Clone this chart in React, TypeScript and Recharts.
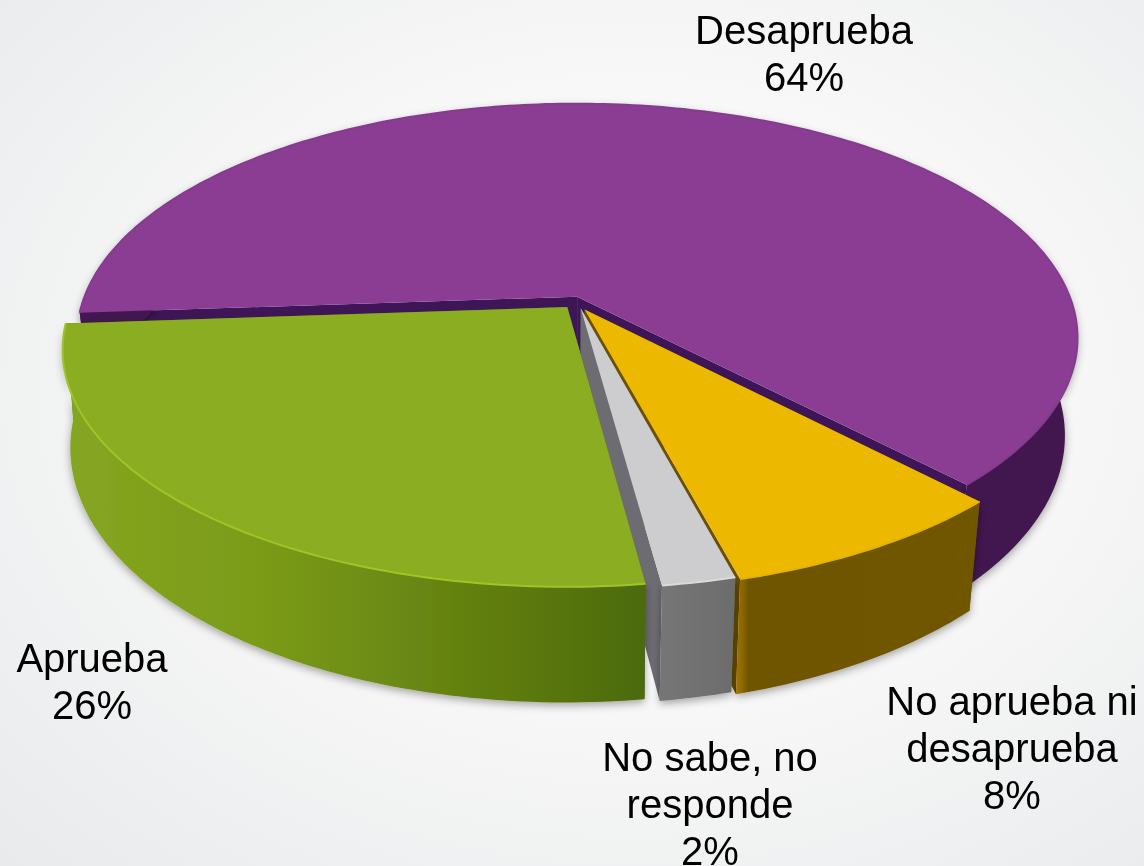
import React from 'react';
import { PieChart, Pie } from 'recharts';

const CATEGORIES = ['Desaprueba', 'No aprueba ni desaprueba', 'No sabe, no responde', 'Aprueba'];
const VALUES = [64, 8, 2, 26];
const LABEL_LINES = [['Desaprueba'], ['No aprueba ni', 'desaprueba'], ['No sabe, no', 'responde'], ['Aprueba']];

const TOP_COLORS = ['#8A3D93', '#EDB900', '#CDCDCF', '#8AAD22'];
const RIM_COLORS = ['#853B8E', '#E6B300', '#DADADA', '#A0C428'];
const WALL_FILLS = ['url(#wallPurple)', 'url(#wallYellow)', 'url(#wallGray)', 'url(#wallGreen)'];
const CUT_COLORS = ['#3E1657', '#6A5000', '#6C6C72', '#4C6A0A'];
// ajustes de cada fatia (unidade = raio)
const SLICE_NUDGE_U = [0, 0.012, 0.011, 0.003];
const SLICE_NUDGE_V = [0.006, -0.008, 0, 0];
const BOTTOM_SCALE = [0.975, 0.975, 0.975, 0.985];

// centro de cada rótulo e linha de base da primeira linha
const LABEL_POS = [
  { x: 804, y: 44 },
  { x: 1012, y: 715 },
  { x: 710, y: 771 },
  { x: 92, y: 672 },
];
const LINE_HEIGHT = 47;

const CX = 573;
const CY = 303;
const RADIUS = 495;
const TILT = 0.4626; // achatamento vertical do disco
const PERSP = 0.1756; // perspectiva frente/fundo
const EXPLODE = 0.023;
const DEPTH = 95;

const rad = (a: number) => (a * Math.PI) / 180;

// projeta um ponto do disco (unidade = raio) para a tela
const project = (u: number, v: number, scale: number, cx: number, cy: number, r: number) => {
  const w = 1 + PERSP * v;
  const x = cx + (r * u) / w;
  const y = cy - (r * TILT * v) / w;
  if (scale === 1) return [x, y];
  return [cx + (x - cx) * scale, y + DEPTH / w];
};

const toPath = (pts: number[][]) =>
  pts.map((p, i) => `${i === 0 ? 'M' : 'L'}${p[0].toFixed(1)} ${p[1].toFixed(1)}`).join(' ') + ' Z';

const PieSlice3D = (props: any) => {
  const { cx, cy, outerRadius, startAngle, endAngle, index } = props;
  const mid = rad((startAngle + endAngle) / 2);
  const ou = EXPLODE * Math.cos(mid) + SLICE_NUDGE_U[index];
  const ov = EXPLODE * Math.sin(mid) + SLICE_NUDGE_V[index];

  const steps = Math.max(4, Math.ceil(Math.abs(startAngle - endAngle)));
  const arc: number[][] = [];
  for (let i = 0; i <= steps; i++) {
    const a = rad(startAngle + ((endAngle - startAngle) * i) / steps);
    arc.push([ou + Math.cos(a), ov + Math.sin(a)]);
  }
  const top = (p: number[]) => project(p[0], p[1], 1, cx, cy, outerRadius);
  const low = (p: number[]) => project(p[0], p[1], BOTTOM_SCALE[index], cx, cy, outerRadius);

  const apex = [ou, ov];
  const first = arc[0];
  const last = arc[arc.length - 1];
  const topArc = arc.map(top);
  const lowArc = arc.map(low);

  const rimPath = topArc.map((p, i) => `${i === 0 ? 'M' : 'L'}${p[0].toFixed(1)} ${p[1].toFixed(1)}`).join(' ');

  return (
    <g>
      <path d={toPath([top(apex), top(first), low(first), low(apex)])} fill={CUT_COLORS[index]} />
      <path d={toPath([top(apex), top(last), low(last), low(apex)])} fill={CUT_COLORS[index]} />
      <path
        d={toPath([...topArc, ...lowArc.slice().reverse()])}
        fill={WALL_FILLS[index]}
        filter="url(#pieShadow)"
      />
      <path d={toPath([top(apex), ...topArc])} fill={TOP_COLORS[index]} />
      <path d={rimPath} fill="none" stroke={RIM_COLORS[index]} strokeWidth={2} />
    </g>
  );
};

const renderLabel = (props: any) => {
  const { index, value } = props;
  const pos = LABEL_POS[index];
  const lines = [...LABEL_LINES[index], `${value}%`];
  return (
    <text
      key={index}
      x={pos.x}
      y={pos.y}
      textAnchor="middle"
      fontFamily="'Liberation Sans', Arial, sans-serif"
      fontSize={40}
      fill="#000"
    >
      {lines.map((line, i) => (
        <tspan key={i} x={pos.x} y={pos.y + i * LINE_HEIGHT}>
          {line}
        </tspan>
      ))}
    </text>
  );
};

const data = CATEGORIES.map((name, i) => ({ name, value: VALUES[i] }));

export default function App() {
  return (
    <div
      style={{
        position: 'fixed',
        left: 0,
        top: 0,
        width: 1144,
        height: 866,
        background: 'radial-gradient(ellipse at 55% 45%, #ffffff 0%, #f8f8f8 45%, #eeeff0 80%, #e8eaeb 100%)',
      }}
    >
      <PieChart width={1144} height={866} margin={{ top: 0, right: 0, bottom: 0, left: 0 }}>
        <defs>
          <linearGradient id="wallGreen" x1="0" y1="0" x2="1" y2="0">
            <stop offset="0%" stopColor="#86A622" />
            <stop offset="35%" stopColor="#7A9A18" />
            <stop offset="70%" stopColor="#628010" />
            <stop offset="100%" stopColor="#4C6A0A" />
          </linearGradient>
          <linearGradient id="wallPurple" x1="0" y1="0" x2="1" y2="0">
            <stop offset="0%" stopColor="#43194F" />
            <stop offset="100%" stopColor="#43194F" />
          </linearGradient>
          <linearGradient id="wallYellow" x1="0" y1="0" x2="1" y2="0">
            <stop offset="0%" stopColor="#A87A00" />
            <stop offset="5%" stopColor="#705500" />
            <stop offset="100%" stopColor="#715600" />
          </linearGradient>
          <linearGradient id="wallGray" x1="0" y1="0" x2="1" y2="0">
            <stop offset="0%" stopColor="#767676" />
            <stop offset="100%" stopColor="#6C6C6C" />
          </linearGradient>
          <filter id="pieShadow" x="-10%" y="-10%" width="120%" height="125%">
            <feDropShadow dx="0" dy="3" stdDeviation="4" floodColor="#000" floodOpacity="0.35" />
          </filter>
        </defs>
        <Pie
          data={data}
          dataKey="value"
          nameKey="name"
          cx={CX}
          cy={CY}
          innerRadius={0}
          outerRadius={RADIUS}
          startAngle={184}
          endAngle={-176}
          stroke="none"
          shape={PieSlice3D}
          label={renderLabel}
          labelLine={false}
          isAnimationActive={false}
        />
      </PieChart>
    </div>
  );
}
